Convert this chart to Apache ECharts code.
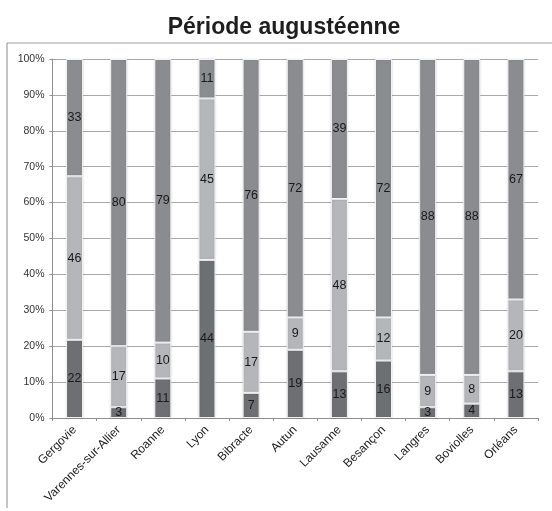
<!DOCTYPE html>
<html>
<head>
<meta charset="utf-8">
<script src="https://cdn.jsdelivr.net/npm/echarts@6/dist/echarts.min.js"></script>
<style>
  html, body { margin: 0; padding: 0; background: #fff; }
  #chart { width: 552px; height: 511px; }
</style>
</head>
<body>
<div id="chart"></div>
<script>
// Sites and counts per group (bottom, middle, top segment)
const sites = ['Gergovie', 'Varennes-sur-Allier', 'Roanne', 'Lyon', 'Bibracte', 'Autun',
               'Lausanne', 'Besançon', 'Langres', 'Boviolles', 'Orléans'];
const lowerValues  = [22, 3, 11, 44, 7, 19, 13, 16, 3, 4, 13];
const middleValues = [46, 17, 10, 45, 17, 9, 48, 12, 9, 8, 20];
const upperValues  = [33, 80, 79, 11, 76, 72, 39, 72, 88, 88, 67];
const yTicks = [0, 10, 20, 30, 40, 50, 60, 70, 80, 90, 100];

const totals = sites.map((_, i) => lowerValues[i] + middleValues[i] + upperValues[i]);

// Each bar is scaled to 100 %, the label keeps the original count
function shares(values) {
  return values.map((v, i) => ({ value: v / totals[i] * 100, raw: v }));
}

const segColors = ['#6e6f72', '#b4b6b9', '#8a8c90'];

function makeSeries(name, values, color) {
  return {
    name: name,
    type: 'bar',
    stack: 'total',
    barWidth: 17,
    data: shares(values),
    itemStyle: {
      color: color,
      borderColor: '#f4f4f4',
      borderWidth: 1,
      shadowColor: 'rgba(0,0,0,0.12)',
      shadowBlur: 2
    },
    label: {
      show: true,
      position: 'inside',
      color: '#1a1a1a',
      fontFamily: 'Liberation Sans, Arial, sans-serif',
      fontSize: 12.5,
      formatter: p => p.data.raw
    },
    emphasis: { disabled: true }
  };
}

const chart = echarts.init(document.getElementById('chart'), null, { renderer: 'canvas' });

chart.setOption({
  animation: false,
  backgroundColor: '#fff',
  title: {
    text: 'Période augustéenne',
    left: 279,
    top: 11,
    textAlign: 'center',
    textStyle: {
      fontFamily: 'Liberation Sans, Arial, sans-serif',
      fontWeight: 'bold',
      fontSize: 23,
      color: '#1e1e1e'
    }
  },
  graphic: [
    { type: 'line', shape: { x1: 7, y1: 43, x2: 552, y2: 43 }, style: { stroke: '#9e9e9e', lineWidth: 1.2 } },
    { type: 'line', shape: { x1: 7, y1: 43, x2: 7, y2: 508 }, style: { stroke: '#9e9e9e', lineWidth: 1.2 } }
  ],
  grid: { left: 52.5, right: 14, top: 59, bottom: 93, containLabel: false },
  xAxis: {
    type: 'category',
    data: sites,
    axisLine: { lineStyle: { color: '#8f8f8f', width: 1 } },
    axisTick: { show: true, length: 3, lineStyle: { color: '#8f8f8f' } },
    axisLabel: {
      interval: 0,
      rotate: 45,
      margin: 10,
      color: '#222',
      fontFamily: 'Liberation Sans, Arial, sans-serif',
      fontSize: 12
    }
  },
  yAxis: {
    type: 'value',
    min: yTicks[0],
    max: yTicks[yTicks.length - 1],
    interval: 10,
    axisLine: { show: true, lineStyle: { color: '#8f8f8f', width: 1 } },
    axisTick: { show: true, length: 3, lineStyle: { color: '#8f8f8f' } },
    axisLabel: {
      formatter: '{value}%',
      margin: 8,
      color: '#333',
      fontFamily: 'Liberation Sans, Arial, sans-serif',
      fontSize: 10.5
    },
    splitLine: { lineStyle: { color: '#a9a9a9', width: 1.2 } }
  },
  series: [
    makeSeries('bas', lowerValues, segColors[0]),
    makeSeries('milieu', middleValues, segColors[1]),
    makeSeries('haut', upperValues, segColors[2])
  ]
});
</script>
</body>
</html>
